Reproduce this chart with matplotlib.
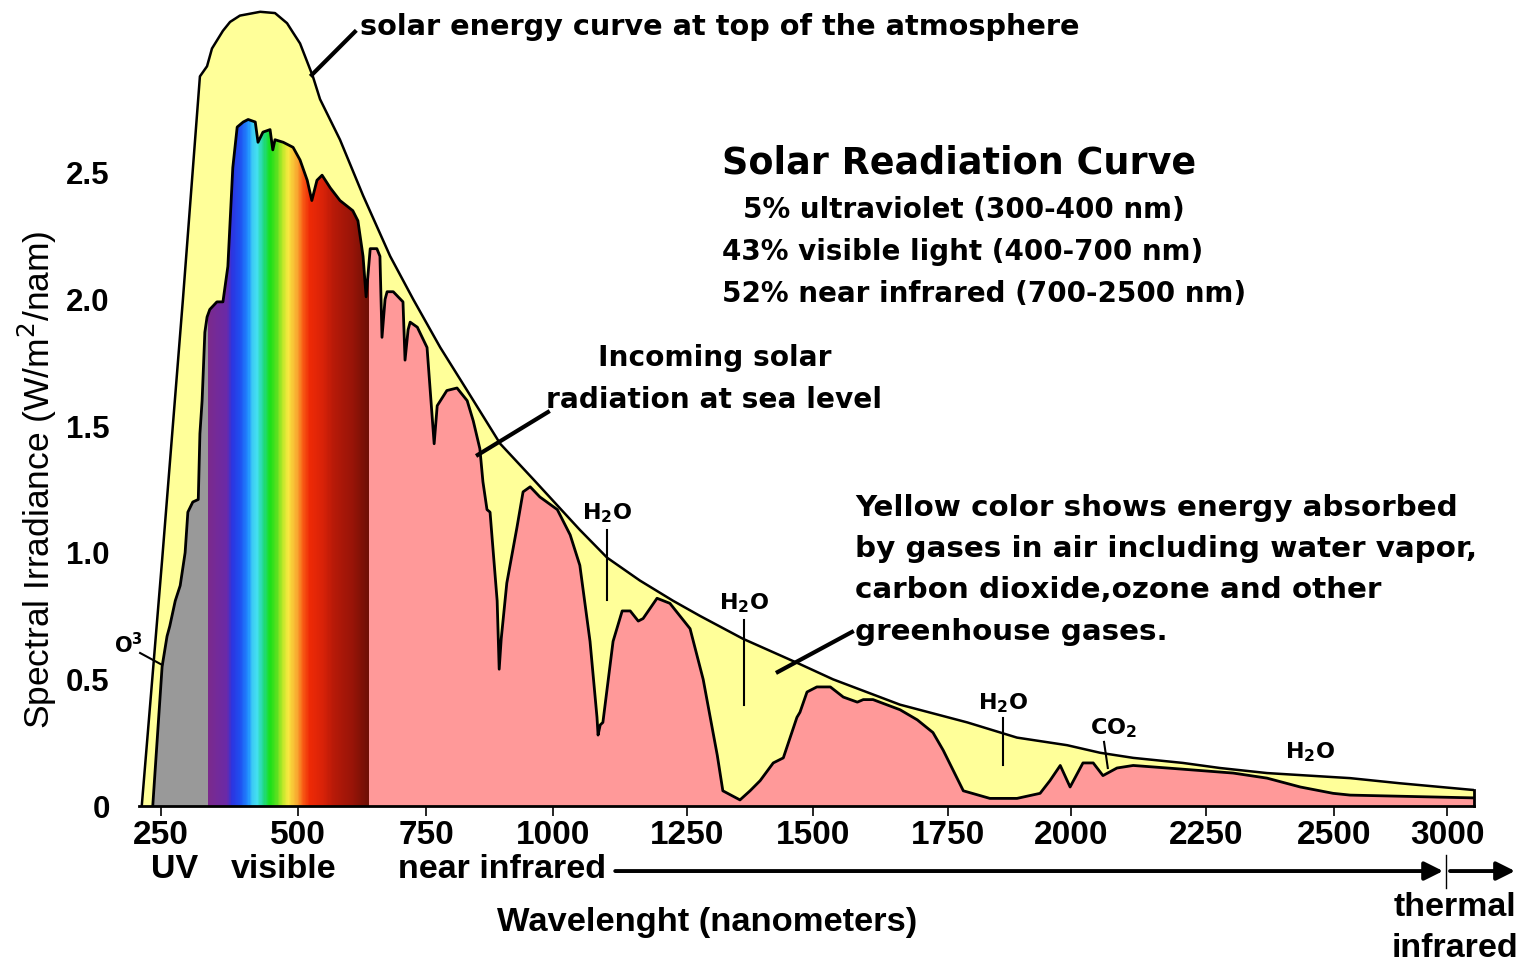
import numpy as np
import matplotlib
matplotlib.use("Agg")
import matplotlib.pyplot as plt
from matplotlib.colors import LinearSegmentedColormap
from matplotlib.patches import Polygon

# solar energy curve at top of the atmosphere (nm, W/m2/nm)
toa_nm = [215, 252, 290, 321, 334, 343, 363, 376, 394, 431, 458, 480,
          490, 504, 529, 543, 582, 627, 680, 725, 778, 831, 896,
          961, 1050, 1101, 1162, 1224, 1276, 1361, 1474, 1537, 1661,
          1789, 1890, 1992, 2054, 2115, 2207, 2277, 2369, 2571, 2788,
          3120]
toa_val = [0, 0.97, 2.0, 2.88, 2.92, 2.99, 3.06, 3.095, 3.12, 3.135, 3.13, 3.09,
           3.056, 3.01, 2.88, 2.79, 2.63, 2.41, 2.17, 2.0, 1.81, 1.64, 1.43,
           1.29, 1.09, 0.98, 0.89, 0.81, 0.75, 0.66, 0.56, 0.50, 0.40,
           0.33, 0.27, 0.24, 0.21, 0.19, 0.17, 0.15, 0.13, 0.11, 0.09,
           0.063]

# incoming solar radiation at sea level
sea_nm = [235, 244, 252, 261, 266, 276, 285, 294, 299, 308,
          318, 321, 325, 330, 334, 339, 352, 363, 372, 381,
          389, 400, 409, 422, 427, 436, 449, 454, 458, 473,
          491, 504, 518, 527, 537, 547, 563, 582, 607, 617,
          627, 633, 641, 654, 660, 664, 670, 674, 686, 705,
          709, 715, 719, 733, 752, 766, 772, 791, 811, 831,
          843, 856, 862, 870, 876, 882, 890, 894, 898, 909,
          929, 941, 955, 974, 1008, 1032, 1050, 1069, 1082, 1084,
          1088, 1093, 1112, 1129, 1144, 1159, 1168, 1194, 1218, 1256,
          1282, 1310, 1321, 1355, 1375, 1395, 1421, 1441, 1468, 1474,
          1488, 1507, 1532, 1556, 1582, 1593, 1611, 1661, 1693, 1722,
          1741, 1781, 1835, 1890, 1937, 1957, 1978, 1998, 2022, 2041,
          2059, 2085, 2115, 2178, 2303, 2369, 2434, 2498, 2571, 3120]
sea_val = [0, 0.29, 0.55, 0.67, 0.71, 0.81, 0.87, 1.0, 1.16, 1.2,
           1.21, 1.47, 1.6, 1.87, 1.93, 1.96, 1.99, 1.99, 2.13, 2.52,
           2.68, 2.70, 2.71, 2.70, 2.62, 2.66, 2.67, 2.59, 2.63, 2.62,
           2.60, 2.55, 2.47, 2.39, 2.47, 2.49, 2.44, 2.39, 2.35, 2.31,
           2.17, 2.01, 2.20, 2.20, 2.17, 1.85, 2.0, 2.03, 2.03, 1.99,
           1.76, 1.88, 1.91, 1.89, 1.81, 1.43, 1.58, 1.64, 1.65, 1.60,
           1.52, 1.41, 1.28, 1.17, 1.16, 1.01, 0.81, 0.54, 0.66, 0.88,
           1.10, 1.24, 1.26, 1.22, 1.17, 1.07, 0.95, 0.65, 0.35, 0.28,
           0.32, 0.33, 0.65, 0.77, 0.77, 0.73, 0.74, 0.82, 0.80, 0.70,
           0.50, 0.20, 0.06, 0.024, 0.06, 0.10, 0.17, 0.19, 0.35, 0.37,
           0.45, 0.47, 0.47, 0.43, 0.41, 0.42, 0.42, 0.38, 0.34, 0.29,
           0.22, 0.06, 0.03, 0.03, 0.05, 0.10, 0.16, 0.075, 0.17, 0.17,
           0.12, 0.15, 0.16, 0.15, 0.13, 0.11, 0.075, 0.05, 0.043, 0.032]

# band limits (nm)
uv_end = 336
vis_end = 638

# rainbow under the visible part
spec_nm = [336, 370, 379, 394, 409, 416, 425, 436, 449, 462, 471, 482, 498, 510, 523, 549, 569, 607, 636]
spec_colors = ["#7b2a8c", "#6a2aa8", "#2c34e0", "#1f4ff0", "#2090ff", "#3cc8f5", "#44e0f0",
               "#22d890", "#18e018", "#60e020", "#b8e828", "#f8e840", "#f8a830", "#f85a14",
               "#ee2a06", "#d82208", "#b81a08", "#981408", "#701005"]

x_ticks = [250, 500, 750, 1000, 1250, 1500, 1750, 2000, 2250, 2500, 3000]
y_ticks = [0, 0.5, 1.0, 1.5, 2.0, 2.5]
y_ticklabels = ["0", "0.5", "1.0", "1.5", "2.0", "2.5"]

# the wavelength axis is hand drawn: uneven spacing, 2500-3000 squeezed
scale_nm = [150] + x_ticks + [3500]
scale_pos = [106, 161, 298, 426, 553, 687, 813, 948, 1071, 1206, 1334, 1447, 1559]

YELLOW = "#ffff99"
PINK = "#ff9999"
GRAY = "#999999"

ann = dict(family="DejaVu Sans", weight="bold", color="black")
axf = dict(family=["Liberation Sans", "DejaVu Sans"], weight="bold", color="black")

fig = plt.figure(figsize=(15.25, 9.65), dpi=100)
ax = fig.add_axes([139 / 1525, 159 / 965, 1335 / 1525, 798 / 965])
ax.set_xscale("function", functions=(lambda x: np.interp(x, scale_nm, scale_pos),
                                     lambda p: np.interp(p, scale_pos, scale_nm)))
ax.set_xlim(210, 3120)
ax.set_ylim(0, 3.15)

# yellow = absorbed by the atmosphere
ax.fill_between(toa_nm, 0, toa_val, color=YELLOW, lw=0, zorder=1)

# sea level area (pink), with UV in gray and visible as a rainbow
sea_poly = Polygon(np.column_stack([np.r_[sea_nm[0], sea_nm, sea_nm[-1]],
                                    np.r_[0, sea_val, 0]]),
                   closed=True, facecolor=PINK, edgecolor="none", zorder=2)
ax.add_patch(sea_poly)

uv_x = np.union1d(np.linspace(sea_nm[0], uv_end, 200), [x for x in sea_nm if x <= uv_end])
ax.fill_between(uv_x, 0, np.interp(uv_x, sea_nm, sea_val), color=GRAY, lw=0, zorder=3)

spec_pos = [(v - spec_nm[0]) / (spec_nm[-1] - spec_nm[0]) for v in spec_nm]
cmap = LinearSegmentedColormap.from_list("spectrum", list(zip(spec_pos, spec_colors)))
xe = np.linspace(uv_end, vis_end, 301)
xc = 0.5 * (xe[:-1] + xe[1:])
mesh = ax.pcolormesh(xe, [0, 3.15], xc[None, :], cmap=cmap,
                     vmin=spec_nm[0], vmax=spec_nm[-1], shading="flat", zorder=3)
mesh.set_clip_path(sea_poly)

# outlines
ax.plot(sea_nm, sea_val, color="black", lw=2.0, zorder=5)
ax.plot(toa_nm, toa_val, color="black", lw=1.8, zorder=5)
ax.plot([toa_nm[-1], toa_nm[-1]], [0, toa_val[-1]], color="black", lw=2, zorder=5, clip_on=False)

# axes styling
for s in ["top", "right", "left"]:
    ax.spines[s].set_visible(False)
ax.spines["bottom"].set_linewidth(2)
ax.spines["bottom"].set_zorder(6)
ax.set_xticks(x_ticks)
ax.set_xticklabels([str(t) for t in x_ticks], fontdict=axf, fontsize=24)
ax.set_yticks(y_ticks)
ax.set_yticklabels(y_ticklabels, fontdict=axf, fontsize=22.5)
ax.tick_params(axis="x", direction="out", length=7, width=1.2, pad=3)
ax.tick_params(axis="y", length=0, pad=21)

xt = ax.get_xaxis_transform()
ax.text(-0.0764, 0.4085, "Spectral Irradiance (W/m$^2$/nam)", transform=ax.transAxes,
        rotation=90, ha="center", va="center", family=["Liberation Sans", "DejaVu Sans"],
        fontsize=25.5)

# labels under the axis
ax.text(275, -0.0802, "UV", transform=xt, ha="center", va="center", fontsize=24.5, **axf)
ax.text(473, -0.0802, "visible", transform=xt, ha="center", va="center", fontsize=24.5, **axf)
ax.text(900, -0.0802, "near infrared", transform=xt, ha="center", va="center", fontsize=24.5, **axf)
ax.annotate("", xy=(2982, -0.0815), xytext=(1116, -0.0815), xycoords=xt, textcoords=xt,
            arrowprops=dict(arrowstyle="-|>", lw=2.8, color="black", mutation_scale=28,
                            shrinkA=0, shrinkB=0))
ax.annotate("", xy=(3303, -0.0815), xytext=(3013, -0.0815), xycoords=xt, textcoords=xt,
            arrowprops=dict(arrowstyle="-|>", lw=2.8, color="black", mutation_scale=28,
                            shrinkA=0, shrinkB=0))
ax.plot([2996, 2996], [-0.0614, -0.1028], transform=xt, color="black", lw=1, clip_on=False)
ax.text(1290, -0.1454, "Wavelenght (nanometers)", transform=xt, ha="center", va="center",
        fontsize=24.8, **axf)
ax.text(3036, -0.1266, "thermal", transform=xt, ha="center", va="center", fontsize=24.5, **axf)
ax.text(3036, -0.178, "infrared", transform=xt, ha="center", va="center", fontsize=24.5, **axf)

# annotations inside the plot
ax.text(621, 3.075, "solar energy curve at top of the atmosphere", ha="left", va="center",
        fontsize=20.7, **ann)
ax.plot([611, 527], [3.056, 2.886], color="black", lw=3, zorder=6)

ax.text(1319, 2.538, "Solar Readiation Curve", ha="left", va="center", fontsize=26.3, **ann)
ax.text(1361, 2.353, "5% ultraviolet (300-400 nm)", ha="left", va="center", fontsize=20, **ann)
ax.text(1319, 2.187, "43% visible light (400-700 nm)", ha="left", va="center", fontsize=20, **ann)
ax.text(1319, 2.021, "52% near infrared (700-2500 nm)", ha="left", va="center", fontsize=20, **ann)

ax.text(1304, 1.769, "Incoming solar", ha="center", va="center", fontsize=20.2, **ann)
ax.text(1304, 1.603, "radiation at sea level", ha="center", va="center", fontsize=20.2, **ann)
ax.plot([990, 852], [1.555, 1.386], color="black", lw=3, zorder=6)

yellow_lines = ["Yellow color shows energy absorbed",
                "by gases in air including water vapor,",
                "carbon dioxide,ozone and other",
                "greenhouse gases."]
for txt, yv in zip(yellow_lines, [1.176, 1.015, 0.853, 0.687]):
    ax.text(1578, yv, txt, ha="left", va="center", fontsize=21.2, **ann)
ax.plot([1572, 1430], [0.687, 0.529], color="black", lw=3, zorder=6)

# gas absorption labels
h2o = r"$\mathbf{H_2O}$"
ax.text(1101, 1.157, h2o, ha="center", va="center", fontsize=16)
ax.plot([1101, 1101], [1.09, 0.813], color="black", lw=1.5, zorder=6)
ax.text(1363, 0.801, h2o, ha="center", va="center", fontsize=16)
ax.plot([1363, 1363], [0.734, 0.399], color="black", lw=1.5, zorder=6)
ax.text(1862, 0.407, h2o, ha="center", va="center", fontsize=16)
ax.plot([1862, 1862], [0.347, 0.162], color="black", lw=1.5, zorder=6)
ax.text(2078, 0.308, r"$\mathbf{CO_2}$", ha="center", va="center", fontsize=16)
ax.plot([2061, 2068], [0.253, 0.150], color="black", lw=1.5, zorder=6)
ax.text(2453, 0.213, h2o, ha="center", va="center", fontsize=16)
ax.text(190, 0.636, r"$\mathbf{O^3}$", ha="center", va="center", fontsize=15)
ax.plot([212, 252], [0.604, 0.557], color="black", lw=1.5, zorder=6, clip_on=False)

fig.savefig("out.png", dpi=100)
